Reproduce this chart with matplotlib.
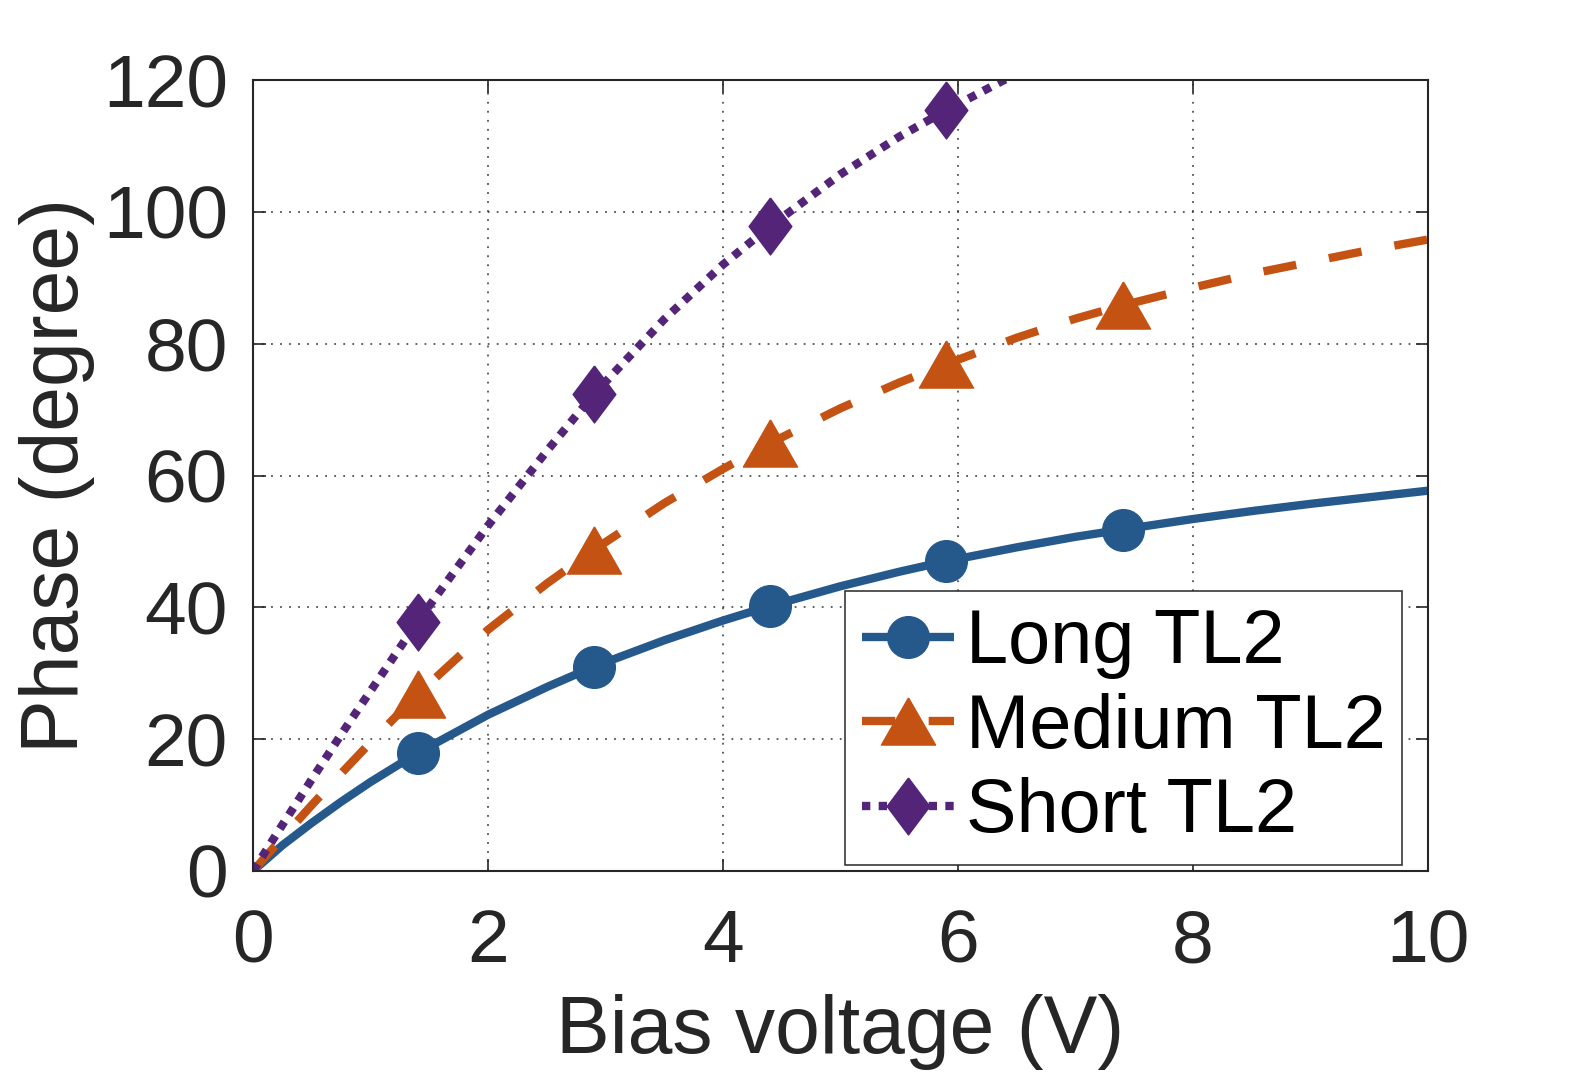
import matplotlib
matplotlib.use("Agg")
import matplotlib.pyplot as plt

plt.rcParams['font.family'] = ['Liberation Sans', 'DejaVu Sans']

volts = [0, 0.25, 0.5, 0.75, 1.0, 1.4, 2.0, 2.5, 2.9, 3.5, 4.0, 4.4,
         5.0, 5.5, 5.9, 6.5, 7.0, 7.4, 8.0, 8.5, 9.0, 9.5, 10.0]

# phase (degree)
long_tl2 = [0, 3.9, 7.3, 10.5, 13.5, 17.9, 23.7, 27.9, 31.0, 35.0, 38.0, 40.2,
            43.2, 45.4, 47.0, 49.1, 50.7, 51.8, 53.4, 54.6, 55.7, 56.7, 57.7]
medium_tl2 = [0, 5.05, 10.0, 14.8, 19.5, 26.8, 36.6, 43.6, 48.7, 55.8, 61.0, 64.9,
              70.2, 74.1, 76.9, 80.9, 83.8, 85.8, 88.5, 90.6, 92.4, 94.2, 95.8]
short_tl2 = [0, 7.0, 13.9, 20.7, 27.3, 37.8, 52.4, 63.7, 72.3, 83.7, 92.0, 97.8,
             105.7, 111.4, 115.4, 121.0, 125.2]

marker_idx = [5, 8, 11, 14, 17]

blue = '#25598C'
orange = '#C45212'
purple = '#532478'
dark = '#262626'

fig = plt.figure(figsize=(15.78, 10.76), dpi=100)
ax = fig.add_axes([253/1578, 1 - 871/1076, 1175/1578, 791/1076])

diamond = [(0, 1), (0.75, 0), (0, -1), (-0.75, 0), (0, 1)]
triangle = [(0, 0.87), (1, -0.87), (-1, -0.87), (0, 0.87)]

ax.plot(volts, long_tl2, color=blue, lw=6, marker='o', ms=30,
        markevery=marker_idx, label='Long TL2', solid_capstyle='butt')
ax.plot(volts, medium_tl2, color=orange, lw=6, marker=triangle, ms=39,
        markevery=marker_idx, label='Medium TL2', linestyle=(0, (4, 4)),
        dash_capstyle='butt')
ax.plot(volts[:len(short_tl2)], short_tl2, color=purple, lw=6, marker=diamond, ms=41,
        markevery=[i for i in marker_idx if i < len(short_tl2)], label='Short TL2',
        linestyle=(0, (1, 1)), dash_capstyle='butt')

ax.set_xlim(0, 10)
ax.set_ylim(0, 120)
ax.set_xticks([0, 2, 4, 6, 8, 10])
ax.set_yticks([0, 20, 40, 60, 80, 100, 120])

ax.grid(True, linestyle=(0, (1, 4)), color=dark, lw=1.3, alpha=0.8)
ax.tick_params(direction='in', length=9, width=1.2, colors=dark,
               labelsize=54, top=True, right=True)
ax.tick_params(axis='x', pad=27)
ax.tick_params(axis='y', pad=18)
for s in ax.spines.values():
    s.set_color(dark)
    s.set_linewidth(1.5)

ax.set_xlabel('Bias voltage (V)', fontsize=58, color=dark, labelpad=12)
ax.set_ylabel('Phase (degree)', fontsize=58, color=dark, labelpad=6)

leg = ax.legend(loc='lower right', bbox_to_anchor=(0.978, 0.0076), borderaxespad=0,
                fontsize=54.5, handlelength=1.22, handletextpad=0.15, borderpad=0.22,
                labelspacing=0.18, fancybox=False, framealpha=1)
leg.get_frame().set_edgecolor(dark)
leg.get_frame().set_linewidth(1.1)

fig.savefig('out.png', dpi=100)
